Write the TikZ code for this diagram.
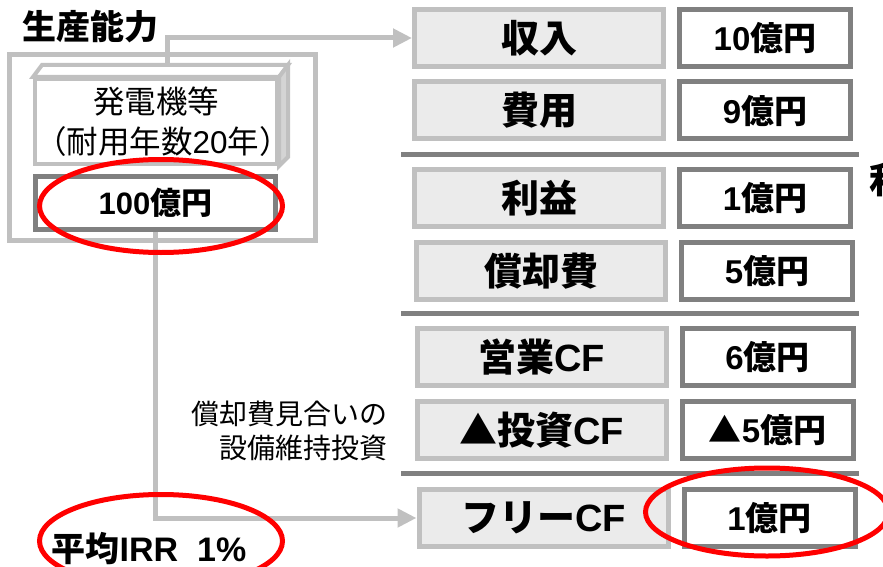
\documentclass[tikz,border=0pt]{standalone}
\usepackage{fontspec}
\setmainfont{Liberation Sans}
\newfontfamily\jp{Noto Sans CJK JP}
\usetikzlibrary{arrows.meta,shapes.geometric}
\definecolor{lgray}{HTML}{C0C0C0}
\definecolor{dgray}{HTML}{808080}
\definecolor{boxfill}{HTML}{EBEBEB}
\definecolor{sidefill}{HTML}{D4D4D4}
\definecolor{redring}{HTML}{FF0000}
\newcommand\J[1]{{\jp #1}}
\begin{document}
\begin{tikzpicture}[x=1pt,y=-1pt,
  labelbox/.style={draw=lgray, fill=boxfill, line width=5pt, minimum width=249pt, minimum height=57pt, inner sep=0pt, font=\bfseries\fontsize{38}{40}\selectfont},
  valuebox/.style={draw=dgray, fill=white, line width=5pt, minimum width=171pt, minimum height=57pt, inner sep=0pt, font=\bfseries\fontsize{33}{36}\selectfont},
  sepline/.style={draw=dgray, line width=5pt},
  flow/.style={draw=lgray, line width=5pt, -{Triangle[length=19pt,width=18pt]}},
  ring/.style={draw=redring, line width=5pt, ellipse, inner sep=0pt},
]
\clip (0,0) rectangle (883,567);
\useasboundingbox (0,0) rectangle (883,567);

% title and frame
\node (title) [inner sep=0pt, font=\jp\bfseries\fontsize{34}{36}\selectfont] at (90,27) {生産能力};
\node (frame) [draw=lgray, line width=5pt, minimum width=306pt, minimum height=186pt, inner sep=0pt] at (162.5,147.5) {};

% 3D box
\draw[draw=lgray, line width=4pt, line join=miter, fill=white] (33,77) -- (42,65) -- (288,65) -- (279,77) -- cycle;
\draw[draw=lgray, line width=4pt, line join=miter, fill=sidefill] (279,77) -- (288,65) -- (288,157) -- (279,166) -- cycle;
\node (gen) [draw=lgray, line width=4pt, fill=white, text width=242pt, minimum height=85pt, inner sep=0pt, align=center, font=\fontsize{31.5}{40}\selectfont] at (156,121.5) {\J{発電機等}\\\J{（耐用年数}20\J{年）}};

\node (cap) [draw=dgray, line width=5pt, fill=white, minimum width=240pt, minimum height=53pt, inner sep=0pt, font=\bfseries\fontsize{31}{34}\selectfont] at (155.5,203) {100\J{億円}};

% right column
\node (rev)  [labelbox] at (539,38)    {\J{収入}};
\node (revv) [valuebox] at (765,38)    {10\J{億円}};
\node (cost) [labelbox] at (539,110.5) {\J{費用}};
\node (costv)[valuebox] at (765,110.5) {9\J{億円}};
\node (prof) [labelbox] at (539,198)   {\J{利益}};
\node (profv)[valuebox] at (765,198)   {1\J{億円}};
\node (depr) [labelbox] at (541,271)   {\J{償却費}};
\node (deprv)[valuebox] at (767,271)   {5\J{億円}};
\node (ocf)  [labelbox] at (541.5,357) {\J{営業}CF};
\node (ocfv) [valuebox] at (767.5,357) {6\J{億円}};
\node (icf)  [labelbox] at (541.5,430) {\J{▲投資}CF};
\node (icfv) [valuebox] at (767.5,430) {\J{▲}5\J{億円}};
\node (free) [labelbox] at (543.5,518) {\J{フリー}CF};
\node (freev)[valuebox] at (769.5,518) {1\J{億円}};

\draw[sepline] (401,154) -- (859,154);
\draw[sepline] (401,313) -- (859,313);
\draw[sepline] (401,473) -- (859,473);

\node (cut) [anchor=west, inner sep=0pt, font=\jp\bfseries\fontsize{36}{38}\selectfont] at (869,180) {利};

% connectors
\coordinate (topstart) at (167,65);
\draw[flow] (topstart) |- (rev.west);
\draw[flow] (cap.south) |- (free.west);

% notes
\node (note) [anchor=east, align=right, inner sep=0pt, font=\fontsize{28}{34}\selectfont] at (388,431) {\J{償却費見合いの}\\\J{設備維持投資}};
\node (irr) [inner sep=0pt, font=\bfseries\fontsize{34}{36}\selectfont] at (149,549) {\J{平均}IRR\ \ 1\%};

% red rings
\node (ring1) [ring, minimum width=243pt, minimum height=93pt] at (161,206) {};
\node (ring2) [ring, minimum width=243pt, minimum height=93pt] at (161,541) {};
\node (ring3) [ring, minimum width=243pt, minimum height=88pt] at (767,512) {};
\end{tikzpicture}
\end{document}
